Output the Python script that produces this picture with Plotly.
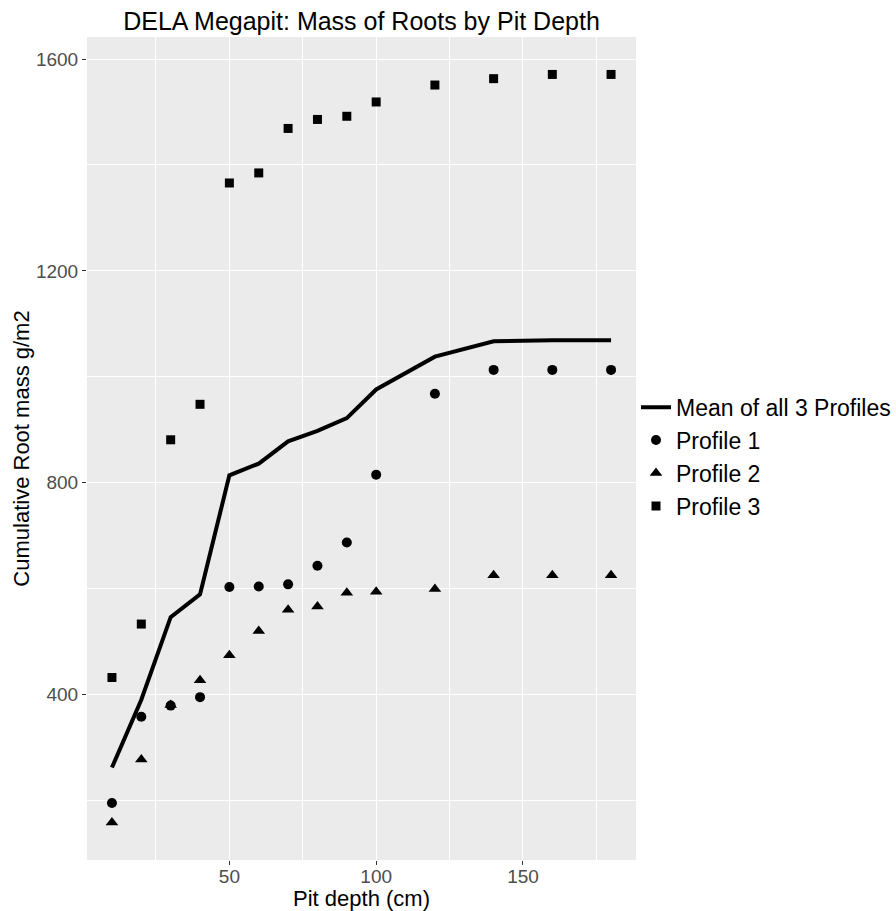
import plotly.graph_objects as go

depth = [10, 20, 30, 40, 50, 60, 70, 80, 90, 100, 120, 140, 160, 180]
profile1 = [195, 358, 379, 395, 603, 604, 608, 643, 687, 815, 968, 1013, 1013, 1013]
profile2 = [158, 277, 380, 427, 474, 520, 560, 566, 592, 594, 599, 625, 625, 625]
profile3 = [432, 533, 881, 948, 1366, 1385, 1469, 1486, 1492, 1519, 1551, 1563, 1571, 1571]
mean_all = [262, 390, 546, 589, 814, 836, 878, 898, 922, 976, 1038, 1067, 1069, 1069]

FONT = "Liberation Sans, Arial, sans-serif"

W, H = 896, 911

fig = go.Figure()
fig.add_trace(go.Scatter(x=depth, y=mean_all, mode="lines", name="Mean of all 3 Profiles",
                         line=dict(color="black", width=4)))
fig.add_trace(go.Scatter(x=depth, y=profile1, mode="markers", name="Profile 1",
                         marker=dict(symbol="circle", size=10, color="black")))
fig.add_trace(go.Scatter(x=depth, y=profile2, mode="markers", name="Profile 2",
                         marker=dict(symbol="triangle-up", size=11, color="black")))
fig.add_trace(go.Scatter(x=depth, y=profile3, mode="markers", name="Profile 3",
                         marker=dict(symbol="square", size=9, color="black")))

fig.update_layout(
    width=W, height=H,
    margin=dict(l=87, r=W - 636, t=37, b=H - 860, autoexpand=False),
    paper_bgcolor="white",
    plot_bgcolor="#EBEBEB",
    font=dict(family=FONT, color="black"),
    title=dict(text="DELA Megapit: Mass of Roots by Pit Depth", x=361.5 / W,
               xanchor="center", y=1 - 21 / H, yanchor="middle",
               font=dict(size=25, color="black")),
    showlegend=True,
    legend=dict(x=1.0, xanchor="left", y=0.49, yanchor="middle",
                font=dict(size=23, color="black"), bgcolor="rgba(0,0,0,0)",
                tracegroupgap=0, itemsizing="trace"),
)
fig.update_xaxes(
    range=[1.5, 188.5], tick0=0, dtick=50, showgrid=True, gridcolor="white", gridwidth=1.4,
    zeroline=False, ticks="outside", ticklen=4, tickcolor="#333333", tickwidth=1,
    tickfont=dict(size=19, color="#4D4D4D"), automargin=True, ticklabelstandoff=-5,
    minor=dict(dtick=25, showgrid=True, gridcolor="white", gridwidth=0.7, ticks=""),
    title=dict(text="Pit depth (cm)", font=dict(size=22, color="black"), standoff=2),
    showline=False,
)
fig.update_yaxes(
    range=[87.4, 1641.7], tick0=0, dtick=400, showgrid=True, gridcolor="white", gridwidth=1.4,
    zeroline=False, ticks="outside", ticklen=4, tickcolor="#333333", tickwidth=1,
    tickfont=dict(size=19, color="#4D4D4D"), automargin=True,
    minor=dict(dtick=200, showgrid=True, gridcolor="white", gridwidth=0.7, ticks=""),
    title=dict(text="Cumulative Root mass g/m2", font=dict(size=22, color="black"), standoff=0),
    showline=False,
)

fig.write_html("out.html", config={"displayModeBar": False},
               post_script="document.body.style.margin='0';")
